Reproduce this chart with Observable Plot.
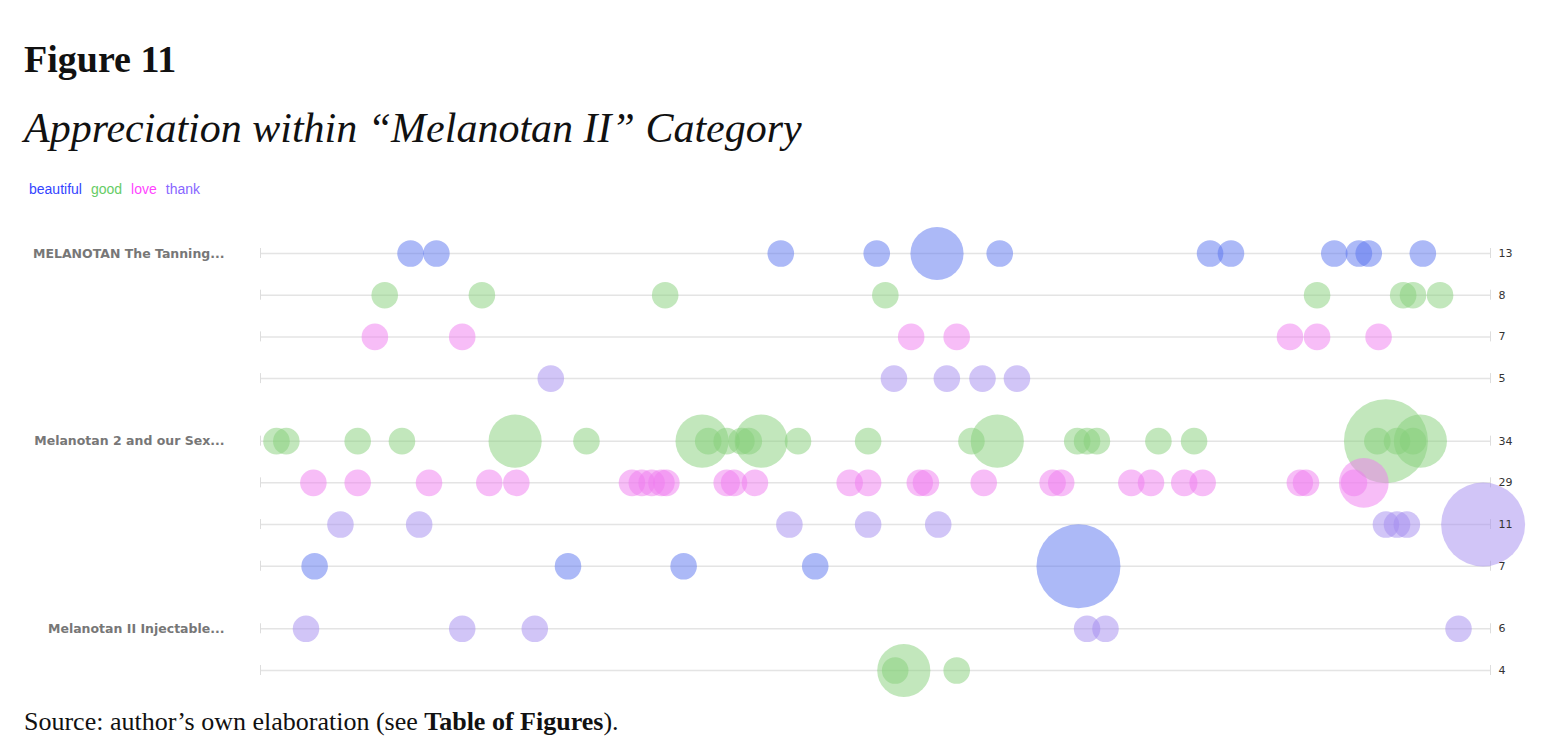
<!DOCTYPE html>
<html>
<head>
<meta charset="utf-8">
<script src="https://cdn.jsdelivr.net/npm/d3@7"></script>
<script src="https://cdn.jsdelivr.net/npm/@observablehq/plot@0.6"></script>
<style>
  body { margin: 0; background: #fff; }
  h1 { font-family: "Liberation Serif", serif; font-size: 38px; font-weight: bold; margin: 0; position: absolute; left: 24px; top: 37px; color: #111; }
  h2 { font-family: "Liberation Serif", serif; font-size: 42px; font-style: italic; font-weight: normal; margin: 0; position: absolute; left: 24px; top: 104px; color: #111; }
  #legend { position: absolute; left: 29px; top: 181px; font: 14px "Liberation Sans", Arial, sans-serif; }
  #legend span { margin-right: 9px; }
  #chart { position: absolute; left: 0; top: 210px; }
  #caption { position: absolute; left: 24px; top: 707px; font: 26px "Liberation Serif", serif; color: #111; }
</style>
</head>
<body>
<h1>Figure 11</h1>
<h2>Appreciation within “Melanotan II” Category</h2>
<div id="legend"></div>
<div id="chart"></div>
<div id="caption">Source: author’s own elaboration (see <b>Table of Figures</b>).</div>
<script>
/* global d3, Plot */
const words = ['beautiful', 'good', 'love', 'thank'];
const colors = ['#5a74f0', '#86d07a', '#f07cf0', '#a48cf0'];
const legendColors = ['#3344ff', '#66cc66', '#ff44ff', '#8866ff'];

const groups = ['MELANOTAN The Tanning...', 'Melanotan 2 and our Sex...', 'Melanotan II Injectable...'];
// each row: group index, word, right-hand count
const rowGroup = [0, 0, 0, 0, 1, 1, 1, 1, 2, 2];
const rowWord = ['beautiful', 'good', 'love', 'thank', 'good', 'love', 'thank', 'beautiful', 'thank', 'good'];
const rowCount = [13, 8, 7, 5, 34, 29, 11, 7, 6, 4];

// x positions along the line (0..100); [x, size] where larger than 1
const rowX = [
  [12.2, 14.3, 42.3, 50.1, [55.0, 4], 60.1, 77.2, 78.9, 87.3, 89.3, 90.1, 94.5],
  [10.1, 18.0, 32.9, 50.8, 85.9, 92.9, 93.7, 95.9],
  [9.3, 16.4, 52.9, 56.6, 83.7, 85.9, 90.9],
  [23.6, 51.5, 55.8, 58.7, 61.5],
  [1.3, 2.1, 7.9, 11.5, [20.7, 4], 26.5, [35.9, 4], 36.4, 37.9, 39.1, 39.7, [40.7, 4], 43.7, 49.4, 57.8, [59.9, 4], 66.4, 67.2, 68.0, 73.0, 75.9, 90.8, [91.5, 10], 92.4, 93.7, [94.3, 4]],
  [4.3, 7.9, 13.7, 18.6, 20.8, 30.2, 31.0, 31.8, 32.6, 33.0, 37.9, 38.5, 40.2, 47.9, 49.4, 53.6, 54.1, 58.8, 64.4, 65.1, 70.8, 72.4, 75.1, 76.6, 84.5, 85.0, 88.9, [89.7, 3.5]],
  [6.5, 12.9, 43.0, 49.4, 55.1, 91.5, 92.4, 93.2, [99.4, 10]],
  [4.4, 25.0, 34.4, 45.1, [66.5, 10]],
  [3.7, 16.4, 22.3, 67.2, 68.7, 97.4],
  [51.6, [52.3, 4], 56.6]
];

// vertical slot of each row: one unit per row, extra half unit between groups
const rowPos = rowGroup.map((g, i) => i + g * 0.5);
const rows = rowPos.map((p, i) => ({ pos: p, word: rowWord[i], count: rowCount[i] }));
const points = rowX.flatMap((xs, i) => xs.map(v => ({
  x: Array.isArray(v) ? v[0] : v,
  size: Array.isArray(v) ? v[1] : 1,
  pos: rowPos[i],
  word: rowWord[i]
})));
const groupLabels = groups.map((g, gi) => ({ label: g, pos: rowPos[rowGroup.indexOf(gi)] }));

d3.select('#legend').selectAll('span').data(words).join('span')
  .style('color', (d, i) => legendColors[i]).text(d => d);

const chart = Plot.plot({
  width: 1567,
  height: 490,
  marginLeft: 260,
  marginRight: 77,
  marginTop: 0,
  marginBottom: 0,
  x: { domain: [0, 100], axis: null },
  y: { domain: [0, 10], range: [43, 460], axis: null },
  r: { type: 'sqrt', domain: [0, 10], range: [0, 42] },
  color: { domain: words, range: colors },
  style: { overflow: 'visible' },
  marks: [
    Plot.ruleY(rows, { y: 'pos', x1: 0, x2: 100, stroke: '#e4e4e4', strokeWidth: 1.5 }),
    Plot.ruleX(rows, { x: 0, y1: d => d.pos - 0.12, y2: d => d.pos + 0.12, stroke: '#ddd' }),
    Plot.ruleX(rows, { x: 100, y1: d => d.pos - 0.12, y2: d => d.pos + 0.12, stroke: '#ddd' }),
    Plot.dot(points, { x: 'x', y: 'pos', r: 'size', fill: 'word', fillOpacity: 0.5, stroke: 'none' }),
    Plot.text(rows, { x: 100, y: 'pos', text: 'count', dx: 8, textAnchor: 'start', fontSize: 11, fill: '#333', fontFamily: 'DejaVu Sans' }),
    Plot.text(groupLabels, { x: 0, y: 'pos', text: 'label', dx: -36, textAnchor: 'end', fontSize: 12.5, fontWeight: 'bold', fill: '#777', fontFamily: 'DejaVu Sans', letterSpacing: '0.4px' })
  ]
});
document.getElementById('chart').append(chart);
</script>
</body>
</html>
